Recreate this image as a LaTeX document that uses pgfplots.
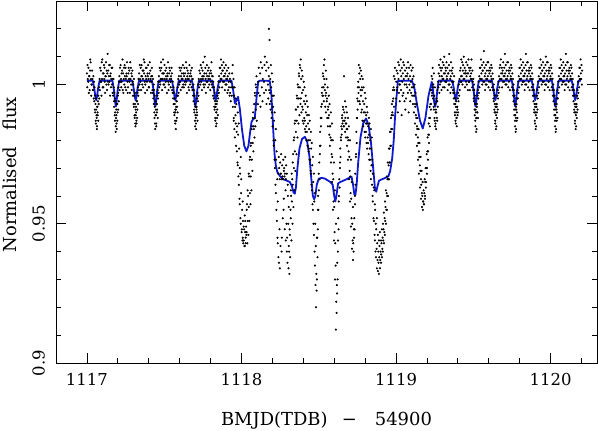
\documentclass[border=0pt]{standalone}
\usepackage{fontspec}
\setmainfont{DejaVu Serif}
\usepackage{pgfplots}
\usepackage{pgfplotstable}
\pgfplotsset{compat=1.18}
\definecolor{modelblue}{RGB}{15,25,205}

% light curve: four flux readings per time stamp
\pgfplotstableread{
x a b c d
1117.000 1.004 0.999 1.007 1.002
1117.008 1.001 1.006 0.997 1.003
1117.016 1.003 0.998 1.005 1.009
1117.024 1.008 1.002 0.996 1.000
1117.032 1.000 1.005 1.002 0.998
1117.040 0.998 1.003 0.995 1.001
1117.047 0.994 0.999 0.991 0.996
1117.053 0.990 0.993 0.987 0.995
1117.058 0.986 0.991 0.989 0.984
1117.063 0.988 0.985 0.992 0.990
1117.068 0.992 0.989 0.994 0.987
1117.074 0.996 0.993 0.999 0.995
1117.082 1.002 0.998 1.006 1.001
1117.090 1.005 1.001 0.996 1.008
1117.098 1.002 1.009 0.999 1.004
1117.106 0.999 1.004 1.007 1.002
1117.114 1.006 1.001 0.997 1.003
1117.122 1.003 1.008 1.000 1.005
1117.130 0.998 1.004 1.011 1.001
1117.138 1.005 1.000 1.003 1.007
1117.146 1.001 1.007 0.996 1.003
1117.154 1.004 0.999 1.002 1.006
1117.162 1.000 1.006 0.997 1.002
1117.170 0.996 1.002 0.999 0.994
1117.176 0.992 0.997 0.989 0.995
1117.181 0.987 0.990 0.994 0.985
1117.186 0.983 0.988 0.991 0.986
1117.191 0.989 0.984 0.993 0.987
1117.196 0.993 0.990 0.996 0.991
1117.202 0.997 0.999 0.994 1.001
1117.210 1.003 0.998 1.006 1.001
1117.218 1.007 1.002 0.999 1.004
1117.226 1.001 1.005 1.009 0.998
1117.234 1.004 0.997 1.002 1.006
1117.242 1.000 1.007 1.003 0.999
1117.250 1.006 1.002 0.998 1.004
1117.258 1.003 1.008 1.001 0.997
1117.266 0.999 1.004 1.006 1.002
1117.274 1.005 1.001 0.997 1.008
1117.282 1.002 1.006 1.000 1.004
1117.290 0.998 1.003 1.005 1.001
1117.298 0.996 1.000 0.993 1.002
1117.304 0.992 0.996 0.989 0.997
1117.309 0.988 0.993 0.986 0.991
1117.314 0.985 0.989 0.992 0.987
1117.319 0.990 0.986 0.994 0.988
1117.324 0.994 0.991 0.997 0.993
1117.330 0.999 0.996 1.002 0.998
1117.338 1.004 1.000 1.007 1.002
1117.346 1.001 1.006 0.998 1.003
1117.354 1.007 1.003 1.000 1.005
1117.362 1.002 0.999 1.005 1.009
1117.370 1.004 1.008 1.001 0.997
1117.378 1.000 1.003 1.006 1.002
1117.386 1.006 1.001 0.998 1.004
1117.394 1.003 1.007 1.002 0.999
1117.402 0.999 1.004 1.008 1.001
1117.410 1.005 1.002 0.997 1.003
1117.418 1.001 1.006 1.003 0.998
1117.426 0.997 1.002 0.995 1.000
1117.432 0.993 0.998 0.990 0.996
1117.437 0.988 0.992 0.986 0.994
1117.442 0.984 0.989 0.991 0.986
1117.447 0.989 0.985 0.993 0.990
1117.452 0.993 0.991 0.996 0.988
1117.458 0.998 0.995 1.001 0.997
1117.466 1.003 0.999 1.006 1.001
1117.474 1.000 1.005 1.002 1.008
1117.482 1.006 1.002 0.998 1.004
1117.490 1.002 1.009 1.004 1.000
1117.498 1.004 1.000 1.007 1.002
1117.506 0.999 1.005 1.001 1.003
1117.514 1.006 1.002 0.997 1.004
1117.522 1.003 1.008 1.001 0.998
1117.530 1.000 1.004 1.006 1.002
1117.538 1.005 1.001 0.999 1.003
1117.546 1.002 1.006 1.004 0.998
1117.554 0.997 1.001 0.995 0.999
1117.561 0.993 0.997 0.990 0.995
1117.566 0.989 0.993 0.987 0.991
1117.571 0.986 0.990 0.984 0.992
1117.576 0.991 0.987 0.994 0.988
1117.581 0.994 0.992 0.996 0.990
1117.587 0.999 0.996 1.002 0.997
1117.595 1.003 1.000 1.006 1.001
1117.603 1.001 1.005 0.998 1.003
1117.611 1.006 1.002 1.004 0.999
1117.619 1.002 1.007 1.000 1.004
1117.627 0.999 1.003 1.006 1.001
1117.635 1.004 1.000 1.002 1.008
1117.643 1.001 1.006 0.997 1.003
1117.651 1.005 1.002 1.004 0.999
1117.659 1.002 0.998 1.007 1.003
1117.667 1.000 1.004 1.001 1.005
1117.675 1.003 0.999 1.006 1.002
1117.683 0.998 1.002 0.996 1.000
1117.690 0.994 0.998 0.991 0.996
1117.695 0.990 0.993 0.987 0.992
1117.700 0.985 0.989 0.992 0.986
1117.705 0.988 0.984 0.991 0.990
1117.710 0.992 0.989 0.995 0.987
1117.716 0.997 0.994 1.000 0.996
1117.724 1.002 0.999 1.005 1.001
1117.732 1.004 1.000 1.007 1.002
1117.740 1.001 1.006 0.998 1.003
1117.748 1.005 1.002 1.008 1.000
1117.756 1.003 0.999 1.004 1.010
1117.764 1.000 1.006 1.002 0.997
1117.772 1.004 1.001 1.007 1.003
1117.780 1.001 1.005 0.999 1.002
1117.788 1.006 1.003 1.000 1.004
1117.796 1.002 0.998 1.005 1.001
1117.804 1.004 1.008 1.000 1.003
1117.812 0.999 1.003 0.996 1.001
1117.820 0.995 0.999 0.992 0.997
1117.826 0.991 0.994 0.988 0.993
1117.831 0.987 0.992 0.985 0.990
1117.836 0.990 0.986 0.993 0.988
1117.841 0.994 0.991 0.996 0.989
1117.847 0.998 0.995 1.001 0.997
1117.855 1.003 0.999 1.006 1.001
1117.863 1.006 1.002 1.009 1.004
1117.871 1.002 1.007 0.999 1.005
1117.879 1.005 1.001 1.008 1.003
1117.887 1.001 1.006 1.003 0.998
1117.895 1.004 1.000 1.007 1.002
1117.903 1.000 1.005 1.002 0.997
1117.911 1.003 0.998 1.006 1.001
1117.919 0.999 1.004 0.996 1.002
1117.927 0.997 1.001 0.994 0.999
1117.937 0.996 1.004 0.999 1.007
1117.944 0.992 0.999 1.002 0.988
1117.950 0.987 0.996 0.984 0.999
1117.957 0.981 0.992 0.989 0.995
1117.963 0.986 0.978 0.993 0.983
1117.970 0.976 0.985 0.972 0.990
1117.976 0.971 0.982 0.967 0.986
1117.983 0.964 0.977 0.959 0.970
1117.989 0.957 0.968 0.952 0.974
1117.995 0.950 0.961 0.966 0.947
1118.002 0.948 0.955 0.944 0.958
1118.008 0.945 0.951 0.943 0.949
1118.015 0.944 0.948 0.942 0.953
1118.021 0.942 0.947 0.951 0.945
1118.028 0.943 0.949 0.946 0.955
1118.034 0.947 0.957 0.943 0.962
1118.041 0.951 0.960 0.946 0.968
1118.047 0.956 0.967 0.951 0.973
1118.054 0.961 0.974 0.957 0.978
1118.060 0.967 0.979 0.962 0.984
1118.067 0.973 0.985 0.969 0.988
1118.073 0.979 0.990 0.976 0.985
1118.080 0.984 0.993 0.981 0.997
1118.086 0.988 0.996 0.985 1.000
1118.093 0.991 0.999 1.003 0.987
1118.106 0.993 1.001 0.997 1.006
1118.119 0.996 1.004 0.992 1.008
1118.132 0.999 1.006 0.994 1.002
1118.145 1.001 0.997 1.007 1.010
1118.158 0.998 1.005 0.993 1.008
1118.171 1.000 0.995 1.006 1.020
1118.177 1.003 0.998 1.016 0.993
1118.184 0.997 1.002 0.991 1.007
1118.190 0.994 0.999 0.988 1.004
1118.197 0.990 0.996 0.985 1.001
1118.203 0.985 0.992 0.980 0.996
1118.209 0.978 0.987 0.973 0.990
1118.216 0.970 0.980 0.964 0.984
1118.222 0.961 0.973 0.955 0.976
1118.229 0.951 0.966 0.945 0.958
1118.235 0.943 0.968 0.938 0.974
1118.242 0.936 0.970 0.948 0.966
1118.248 0.934 0.972 0.942 0.968
1118.255 0.968 0.975 0.940 0.966
1118.261 0.945 0.971 0.967 0.952
1118.268 0.966 0.973 0.955 0.969
1118.274 0.959 0.970 0.967 0.948
1118.281 0.968 0.974 0.962 0.944
1118.287 0.966 0.971 0.950 0.940
1118.293 0.968 0.945 0.936 0.964
1118.300 0.960 0.950 0.934 0.942
1118.306 0.956 0.940 0.932 0.948
1118.313 0.946 0.938 0.955 0.962
1118.319 0.952 0.960 0.944 0.968
1118.326 0.958 0.966 0.950 0.972
1118.332 0.964 0.975 0.956 0.980
1118.339 0.970 0.981 0.962 0.986
1118.345 0.976 0.987 0.969 0.991
1118.352 0.983 0.991 0.975 0.996
1118.358 0.987 0.995 0.981 1.000
1118.365 0.992 0.999 0.986 1.004
1118.371 0.995 1.003 0.989 1.007
1118.378 0.999 1.006 0.993 1.009
1118.384 0.995 1.002 0.990 1.005
1118.391 0.997 0.992 1.003 0.987
1118.397 0.991 0.998 0.986 1.001
1118.404 0.994 0.988 0.999 0.984
1118.410 0.987 0.993 0.983 0.996
1118.417 0.990 0.985 0.980 0.994
1118.423 0.983 0.989 0.978 0.992
1118.430 0.986 0.980 0.976 0.989
1118.436 0.977 0.984 0.973 0.987
1118.443 0.980 0.973 0.969 0.983
1118.449 0.968 0.977 0.964 0.979
1118.456 0.962 0.971 0.957 0.974
1118.462 0.955 0.965 0.950 0.968
1118.469 0.946 0.958 0.940 0.961
1118.475 0.935 0.950 0.928 0.942
1118.482 0.920 0.932 0.926 0.945
1118.488 0.930 0.945 0.938 0.955
1118.494 0.948 0.960 0.955 0.968
1118.501 0.962 0.972 0.966 0.978
1118.507 0.975 0.983 0.978 0.988
1118.514 0.985 0.992 0.988 0.997
1118.520 0.993 0.999 0.996 1.004
1118.527 0.996 1.003 0.999 1.007
1118.533 0.994 1.002 1.009 0.998
1118.540 1.000 0.992 0.996 1.005
1118.546 0.990 0.997 1.002 0.994
1118.553 0.995 0.988 0.999 0.991
1118.559 0.985 0.992 0.988 0.996
1118.566 0.989 0.982 0.993 0.985
1118.572 0.978 0.985 0.981 0.990
1118.579 0.972 0.980 0.975 0.986
1118.585 0.965 0.974 0.968 0.980
1118.592 0.955 0.966 0.958 0.972
1118.598 0.944 0.956 0.947 0.962
1118.605 0.930 0.943 0.935 0.950
1118.611 0.912 0.922 0.918 0.928
1118.618 0.925 0.936 0.930 0.940
1118.624 0.944 0.952 0.948 0.958
1118.631 0.960 0.966 0.963 0.970
1118.637 0.972 0.977 0.974 0.981
1118.644 0.980 0.985 0.982 0.988
1118.650 0.984 0.989 0.986 0.992
1118.657 0.987 0.991 0.985 1.003
1118.663 0.985 0.990 0.987 0.994
1118.670 0.983 0.988 0.986 0.992
1118.676 0.981 0.986 0.984 0.990
1118.683 0.978 0.984 0.981 0.988
1118.689 0.973 0.980 0.976 0.985
1118.696 0.966 0.974 0.969 0.980
1118.702 0.958 0.967 0.961 0.973
1118.708 0.949 0.959 0.952 0.965
1118.715 0.941 0.950 0.944 0.956
1118.721 0.937 0.943 0.940 0.948
1118.728 0.945 0.952 0.948 0.957
1118.734 0.960 0.968 0.964 0.974
1118.741 0.975 0.983 0.979 0.988
1118.747 0.988 0.995 0.991 0.999
1118.753 0.994 1.001 0.997 1.007
1118.760 0.999 1.004 0.994 1.006
1118.766 0.993 1.002 0.998 1.005
1118.773 0.996 0.990 1.003 0.999
1118.779 0.991 0.998 0.987 1.002
1118.786 0.994 0.985 0.999 0.990
1118.792 0.987 0.993 0.983 0.997
1118.799 0.990 0.981 0.995 0.986
1118.805 0.983 0.989 0.979 0.992
1118.811 0.986 0.977 0.990 0.981
1118.818 0.979 0.985 0.975 0.988
1118.824 0.982 0.973 0.986 0.977
1118.831 0.973 0.980 0.969 0.984
1118.837 0.966 0.977 0.971 0.981
1118.844 0.964 0.973 0.960 0.968
1118.850 0.958 0.968 0.952 0.963
1118.857 0.951 0.962 0.946 0.957
1118.863 0.944 0.955 0.940 0.950
1118.870 0.938 0.948 0.941 0.952
1118.876 0.934 0.943 0.937 0.946
1118.883 0.933 0.940 0.936 0.944
1118.889 0.932 0.938 0.942 0.947
1118.896 0.934 0.937 0.940 0.944
1118.902 0.936 0.939 0.943 0.948
1118.909 0.938 0.941 0.945 0.950
1118.915 0.940 0.944 0.948 0.954
1118.922 0.943 0.947 0.952 0.958
1118.928 0.946 0.951 0.956 0.962
1118.935 0.950 0.955 0.961 0.967
1118.941 0.955 0.960 0.966 0.972
1118.948 0.960 0.966 0.971 0.977
1118.954 0.966 0.972 0.977 0.983
1118.961 0.972 0.978 0.983 0.988
1118.967 0.978 0.984 0.989 0.993
1118.974 0.984 0.990 0.994 0.998
1118.980 0.989 0.995 0.999 1.003
1118.987 0.992 0.998 1.002 1.006
1119.000 0.995 1.001 1.005 0.998
1119.008 0.999 1.004 0.990 1.008
1119.016 1.002 0.997 1.007 1.000
1119.024 0.994 1.000 1.005 1.009
1119.032 0.998 1.003 0.989 1.006
1119.040 1.001 0.996 1.004 1.008
1119.048 0.997 1.002 1.007 0.994
1119.056 1.000 1.005 0.991 1.003
1119.064 0.995 1.000 1.006 1.003
1119.072 0.999 1.004 0.997 1.008
1119.080 1.002 0.990 1.006 1.000
1119.088 0.998 1.003 0.994 1.007
1119.096 1.001 0.997 1.005 0.999
1119.104 0.996 1.002 1.006 0.999
1119.109 0.993 0.999 1.003 0.996
1119.116 0.990 0.996 1.000 0.993
1119.122 0.986 0.992 0.997 0.989
1119.129 0.982 0.988 0.993 0.985
1119.135 0.978 0.984 0.988 0.981
1119.142 0.973 0.979 0.984 0.976
1119.148 0.968 0.974 0.979 0.971
1119.155 0.963 0.969 0.974 0.966
1119.161 0.959 0.964 0.969 0.961
1119.168 0.956 0.960 0.965 0.958
1119.174 0.955 0.958 0.962 0.957
1119.181 0.957 0.961 0.966 0.959
1119.187 0.960 0.965 0.970 0.963
1119.194 0.965 0.970 0.975 0.968
1119.200 0.970 0.976 0.981 0.973
1119.207 0.976 0.982 0.986 0.979
1119.213 0.982 0.988 0.992 0.985
1119.220 0.988 0.993 0.998 0.991
1119.226 0.993 0.998 1.003 0.996
1119.233 0.997 1.002 1.006 0.999
1119.239 0.995 1.000 0.992 1.004
1119.245 0.991 0.996 0.988 0.999
1119.250 0.987 0.993 0.985 0.990
1119.255 0.986 0.991 0.984 0.994
1119.260 0.990 0.995 0.988 0.987
1119.266 0.994 0.998 0.992 1.001
1119.274 0.999 1.004 1.007 0.997
1119.282 1.003 1.000 1.006 1.009
1119.290 1.001 1.005 0.998 1.003
1119.298 1.006 1.002 1.008 0.999
1119.306 1.002 1.007 1.004 1.010
1119.314 0.999 1.004 1.001 1.006
1119.322 1.005 1.001 1.008 1.003
1119.330 1.002 1.006 0.998 1.004
1119.338 1.004 1.000 1.007 1.011
1119.346 1.000 1.005 1.002 0.997
1119.354 1.003 1.008 0.999 1.005
1119.362 1.001 1.004 1.006 0.998
1119.370 0.997 1.001 0.995 1.003
1119.376 0.993 0.997 0.990 0.995
1119.381 0.989 0.993 0.987 0.992
1119.386 0.986 0.990 0.994 0.988
1119.391 0.988 0.985 0.992 0.991
1119.396 0.992 0.989 0.995 0.990
1119.402 0.997 0.994 1.000 0.996
1119.410 1.002 0.998 1.005 1.001
1119.418 1.006 1.003 1.009 1.001
1119.426 1.003 1.008 1.000 1.005
1119.434 1.007 1.002 1.010 1.004
1119.442 1.002 1.006 0.999 1.004
1119.450 1.005 1.001 1.008 1.003
1119.458 1.000 1.004 1.007 0.998
1119.466 1.004 1.009 1.001 1.006
1119.474 1.001 1.005 0.998 1.003
1119.482 1.006 1.002 1.004 1.009
1119.490 1.002 0.999 1.005 1.001
1119.498 0.998 1.002 0.995 1.000
1119.504 0.994 0.998 0.991 0.996
1119.509 0.989 0.993 0.987 0.991
1119.514 0.985 0.990 0.983 0.988
1119.519 0.988 0.984 0.992 0.990
1119.524 0.993 0.990 0.996 0.988
1119.530 0.998 0.995 1.001 0.997
1119.538 1.003 0.999 1.006 1.002
1119.546 1.006 1.002 1.009 1.004
1119.554 1.002 1.007 1.000 1.005
1119.562 1.005 1.001 1.008 1.012
1119.570 1.001 1.006 1.003 0.998
1119.578 1.004 1.000 1.007 1.002
1119.586 1.000 1.005 1.002 1.008
1119.594 1.003 1.008 0.999 1.005
1119.602 1.001 1.004 1.006 0.998
1119.610 1.005 1.001 1.003 1.007
1119.618 1.002 1.006 0.999 1.004
1119.626 0.998 1.002 0.995 1.000
1119.632 0.994 0.998 0.991 0.996
1119.637 0.990 0.993 0.987 0.992
1119.642 0.986 0.990 0.984 0.993
1119.647 0.989 0.985 0.992 0.988
1119.652 0.993 0.990 0.996 0.991
1119.658 0.998 0.995 1.001 0.997
1119.666 1.003 0.999 1.006 1.002
1119.674 1.007 1.002 1.009 1.004
1119.682 1.002 1.006 0.999 1.004
1119.690 1.005 1.001 1.008 1.003
1119.698 1.001 1.006 1.003 1.011
1119.706 1.004 1.000 1.007 1.002
1119.714 1.000 1.005 1.002 1.008
1119.722 1.003 1.008 0.999 1.005
1119.730 1.001 1.004 1.006 0.998
1119.738 1.005 1.002 1.003 1.007
1119.746 1.002 1.006 0.999 1.004
1119.754 0.998 1.002 0.996 1.000
1119.760 0.994 0.998 0.991 0.996
1119.765 0.989 0.993 0.987 0.991
1119.770 0.985 0.989 0.983 0.992
1119.775 0.988 0.984 0.991 0.987
1119.780 0.993 0.990 0.995 0.988
1119.786 0.998 0.995 1.001 0.997
1119.794 1.003 0.999 1.006 1.002
1119.802 1.006 1.002 1.009 1.004
1119.810 1.002 1.007 1.000 1.005
1119.818 1.005 1.001 1.008 1.003
1119.826 1.001 1.006 1.003 0.998
1119.834 1.004 1.000 1.007 1.011
1119.842 1.000 1.005 1.002 1.008
1119.850 1.003 1.008 0.999 1.005
1119.858 1.001 1.004 1.006 0.998
1119.866 1.005 1.002 1.003 1.007
1119.874 1.002 1.006 0.999 1.004
1119.882 0.998 1.002 0.996 1.000
1119.889 0.994 0.998 0.991 0.996
1119.894 0.990 0.993 0.987 0.992
1119.899 0.986 0.990 0.984 0.993
1119.904 0.989 0.985 0.992 0.988
1119.909 0.993 0.990 0.996 0.991
1119.915 0.998 0.995 1.001 0.997
1119.923 1.003 0.999 1.006 1.002
1119.931 1.006 1.002 1.009 1.004
1119.939 1.002 1.007 1.000 1.005
1119.947 1.005 1.001 1.008 1.003
1119.955 1.001 1.006 1.003 0.998
1119.963 1.004 1.000 1.007 1.010
1119.971 1.000 1.005 1.002 1.008
1119.979 1.003 1.008 0.999 1.005
1119.987 1.001 1.004 1.006 0.998
1119.995 1.005 1.002 1.003 1.007
1120.003 1.002 1.006 0.999 1.004
1120.011 0.998 1.002 0.996 1.000
1120.019 0.994 0.998 0.991 0.996
1120.024 0.989 0.993 0.987 0.991
1120.029 0.985 0.989 0.983 0.992
1120.034 0.988 0.984 0.991 0.987
1120.039 0.993 0.990 0.995 0.988
1120.045 0.998 0.995 1.001 0.997
1120.053 1.003 0.999 1.006 1.002
1120.061 1.006 1.002 1.009 1.004
1120.069 1.002 1.007 1.000 1.005
1120.077 1.005 1.001 1.008 1.003
1120.085 1.001 1.006 1.003 0.998
1120.093 1.004 1.000 1.007 1.011
1120.101 1.000 1.005 1.002 1.008
1120.109 1.003 1.008 0.999 1.005
1120.117 1.001 1.004 1.006 0.998
1120.125 1.005 1.002 1.003 1.007
1120.133 1.002 1.006 0.999 1.004
1120.141 0.998 1.002 0.996 1.000
1120.148 0.994 0.998 0.991 0.996
1120.153 0.990 0.993 0.987 0.992
1120.158 0.986 0.990 0.984 0.993
1120.163 0.989 0.985 0.992 0.988
1120.168 0.993 0.990 0.996 0.991
1120.174 0.998 0.995 1.001 0.997
1120.182 1.003 0.999 1.006 1.002
1120.190 1.006 1.002 1.009 1.004
1120.198 1.002 1.007 1.000 1.005
}\lcdata

% model curve
\pgfplotstableread{
x y
1117.000 1.0014
1117.038 1.0014
1117.048 0.9985
1117.055 0.9955
1117.060 0.9944
1117.065 0.9955
1117.072 0.9985
1117.082 1.0014
1117.165 1.0014
1117.175 0.9980
1117.182 0.9940
1117.187 0.9921
1117.192 0.9940
1117.199 0.9980
1117.209 1.0014
1117.293 1.0014
1117.303 0.9985
1117.310 0.9955
1117.315 0.9944
1117.320 0.9955
1117.327 0.9985
1117.337 1.0014
1117.421 1.0014
1117.431 0.9980
1117.438 0.9940
1117.443 0.9921
1117.448 0.9940
1117.455 0.9980
1117.465 1.0014
1117.550 1.0014
1117.560 0.9985
1117.567 0.9955
1117.572 0.9944
1117.577 0.9955
1117.584 0.9985
1117.594 1.0014
1117.680 1.0014
1117.690 0.9980
1117.697 0.9940
1117.702 0.9921
1117.707 0.9940
1117.714 0.9980
1117.724 1.0014
1117.811 1.0014
1117.821 0.9985
1117.828 0.9955
1117.833 0.9944
1117.838 0.9955
1117.845 0.9985
1117.855 1.0014
1117.935 1.0014
1117.946 0.9980
1117.957 0.9933
1117.965 0.9940
1117.978 0.9956
1117.990 0.9910
1118.003 0.9840
1118.018 0.9780
1118.032 0.9760
1118.045 0.9780
1118.056 0.9830
1118.065 0.9866
1118.075 0.9875
1118.086 0.9880
1118.097 0.9950
1118.108 1.0010
1118.119 1.0014
1118.183 1.0013
1118.194 0.9960
1118.205 0.9840
1118.214 0.9750
1118.222 0.9710
1118.231 0.9687
1118.248 0.9672
1118.270 0.9660
1118.292 0.9655
1118.313 0.9650
1118.326 0.9635
1118.337 0.9612
1118.345 0.9608
1118.352 0.9630
1118.362 0.9700
1118.375 0.9770
1118.392 0.9805
1118.410 0.9812
1118.425 0.9795
1118.440 0.9740
1118.452 0.9660
1118.462 0.9600
1118.470 0.9588
1118.478 0.9600
1118.487 0.9640
1118.500 0.9662
1118.520 0.9665
1118.540 0.9662
1118.575 0.9650
1118.590 0.9640
1118.600 0.9600
1118.607 0.9580
1118.614 0.9600
1118.625 0.9645
1118.640 0.9650
1118.680 0.9660
1118.712 0.9669
1118.722 0.9640
1118.730 0.9605
1118.737 0.9603
1118.745 0.9640
1118.755 0.9720
1118.770 0.9810
1118.787 0.9860
1118.806 0.9878
1118.822 0.9855
1118.838 0.9790
1118.852 0.9700
1118.863 0.9630
1118.872 0.9615
1118.880 0.9635
1118.890 0.9655
1118.910 0.9660
1118.932 0.9665
1118.950 0.9670
1118.962 0.9690
1118.975 0.9735
1118.985 0.9800
1118.993 0.9880
1119.003 0.9955
1119.012 1.0013
1119.102 1.0014
1119.118 0.9990
1119.135 0.9930
1119.155 0.9870
1119.173 0.9842
1119.190 0.9880
1119.210 0.9960
1119.231 1.0010
1119.239 0.9980
1119.247 0.9935
1119.253 0.9920
1119.259 0.9935
1119.267 0.9980
1119.276 1.0014
1119.364 1.0014
1119.374 0.9985
1119.381 0.9955
1119.386 0.9944
1119.391 0.9955
1119.398 0.9985
1119.408 1.0014
1119.492 1.0014
1119.502 0.9980
1119.509 0.9940
1119.514 0.9921
1119.519 0.9940
1119.526 0.9980
1119.536 1.0014
1119.620 1.0014
1119.630 0.9985
1119.637 0.9955
1119.642 0.9944
1119.647 0.9955
1119.654 0.9985
1119.664 1.0014
1119.749 1.0014
1119.759 0.9980
1119.766 0.9940
1119.771 0.9921
1119.776 0.9940
1119.783 0.9980
1119.793 1.0014
1119.878 1.0014
1119.888 0.9985
1119.895 0.9955
1119.900 0.9944
1119.905 0.9955
1119.912 0.9985
1119.922 1.0014
1120.008 1.0014
1120.018 0.9980
1120.025 0.9940
1120.030 0.9921
1120.035 0.9940
1120.042 0.9980
1120.052 1.0014
1120.137 1.0014
1120.147 0.9985
1120.154 0.9955
1120.159 0.9944
1120.164 0.9955
1120.171 0.9985
1120.181 1.0014
1120.195 1.0014
}\model

\begin{document}
\begin{tikzpicture}
\useasboundingbox (-56bp,-68bp) rectangle (542bp,363bp);
\begin{axis}[
    at={(0,0)}, anchor=south west,
    scale only axis,
    width=541bp, height=362bp,
    xmin=1116.8, xmax=1120.3,
    ymin=0.9, ymax=1.03,
    xtick={1117,1118,1119,1120},
    ytick={0.9,0.95,1},
    minor xtick={1117.2,1117.4,1117.6,1117.8,1118.2,1118.4,1118.6,1118.8,1119.2,1119.4,1119.6,1119.8,1120.2},
    minor ytick={0.91,0.92,0.93,0.94,0.96,0.97,0.98,0.99,1.01,1.02},
    tick align=inside,
    major tick length=10bp,
    minor tick length=5.5bp,
    axis line style={line width=0.8bp},
    every tick/.style={black, line width=0.8bp},
    /pgf/number format/assume math mode=true,
    /pgf/number format/1000 sep={},
    ticklabel style={font=\fontsize{16.5}{18}\selectfont},
    xticklabel style={yshift=-6.5bp},
    yticklabel style={xshift=-7.5bp, rotate=90, anchor=south},
    xlabel={BMJD(TDB)\hspace{0.8em}−\hspace{1em}54900},
    ylabel={Normalised\hspace{0.9em}flux},
    label style={font=\fontsize{18}{21}\selectfont},
    xlabel style={at={(axis description cs:0.5,0)}, anchor=north, yshift=-45bp},
    ylabel style={at={(axis description cs:-0.0656,0.52)}, anchor=south, rotate=0},
  ]
  % columns offset slightly in time so the readings do not stack in columns
  \addplot[only marks, mark=*, mark size=0.85bp, black] table[x=x, y=a]{\lcdata};
  \addplot[only marks, mark=*, mark size=0.85bp, black] table[x expr=\thisrow{x}+0.002, y=b]{\lcdata};
  \addplot[only marks, mark=*, mark size=0.85bp, black] table[x expr=\thisrow{x}+0.004, y=c]{\lcdata};
  \addplot[only marks, mark=*, mark size=0.85bp, black] table[x expr=\thisrow{x}+0.006, y=d]{\lcdata};
  \addplot[modelblue, line width=1.8bp, line join=round] table[x=x, y=y]{\model};
\end{axis}
\end{tikzpicture}
\end{document}
